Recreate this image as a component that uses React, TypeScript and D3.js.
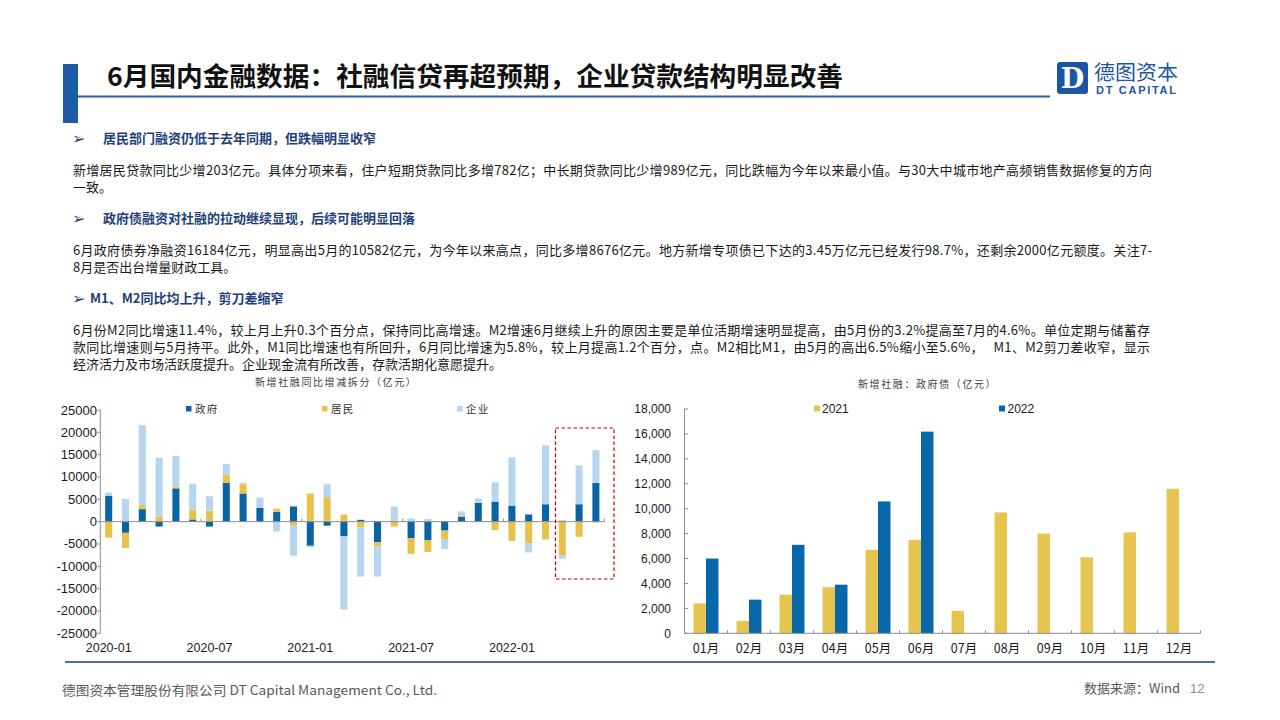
import React from "react";
import * as d3 from "d3";

// ---------- Left chart data: 新增社融同比增减拆分（亿元） ----------
const monthLabels = [
  "2020-01", "2020-02", "2020-03", "2020-04", "2020-05", "2020-06",
  "2020-07", "2020-08", "2020-09", "2020-10", "2020-11", "2020-12",
  "2021-01", "2021-02", "2021-03", "2021-04", "2021-05", "2021-06",
  "2021-07", "2021-08", "2021-09", "2021-10", "2021-11", "2021-12",
  "2022-01", "2022-02", "2022-03", "2022-04", "2022-05", "2022-06",
];
const govValues = [5800, -2500, 2800, -1100, 7450, 500, -1100, 8700, 6300, 3100, 2200, 3400, -5400, -900, -3300, 400, -4600, 0, -3700, -4200, -2000, 1100, 4200, 4500, 3600, 1600, 3900, 200, 3900, 8700];
const resValues = [-3600, -3400, 900, 1200, 400, 2200, 2500, 1900, 2100, 100, 700, -900, 6300, 5500, 1600, -1300, -900, -1100, -3500, -2600, -1900, 300, 0, -1900, -4300, -4900, -4000, -7500, -3400, -200];
const corpValues = [700, 5100, 17900, 13100, 6900, 5800, 3200, 2300, 300, 2200, -2200, -6700, -300, 2900, -16400, -11000, -6800, 3400, 700, 600, -2200, 900, 1000, 4300, 10800, -2000, 13200, -800, 8700, 7300];
const leftXTickLabels = ["2020-01", "2020-07", "2021-01", "2021-07", "2022-01"];
const leftYTicks = [25000, 20000, 15000, 10000, 5000, 0, -5000, -10000, -15000, -20000, -25000];
const leftSeriesNames = ["政府", "居民", "企业"];

// ---------- Right chart data: 新增社融：政府债（亿元） ----------
const rightMonths = ["01月", "02月", "03月", "04月", "05月", "06月", "07月", "08月", "09月", "10月", "11月", "12月"];
const bond2021 = [2400, 1000, 3100, 3700, 6700, 7500, 1800, 9700, 8000, 6100, 8100, 11600];
const bond2022 = [6000, 2700, 7100, 3900, 10582, 16184];
const rightYTicks = [0, 2000, 4000, 6000, 8000, 10000, 12000, 14000, 16000, 18000];
const rightSeriesNames = ["2021", "2022"];

// ---------- Text ----------
const titleText = "6月国内金融数据：社融信贷再超预期，企业贷款结构明显改善";
const heading1 = "居民部门融资仍低于去年同期，但跌幅明显收窄";
const body1 = [
  "新增居民贷款同比少增203亿元。具体分项来看，住户短期贷款同比多增782亿；中长期贷款同比少增989亿元，同比跌幅为今年以来最小值。与30大中城市地产高频销售数据修复的方向",
  "一致。",
];
const heading2 = "政府债融资对社融的拉动继续显现，后续可能明显回落";
const body2 = [
  "6月政府债券净融资16184亿元，明显高出5月的10582亿元，为今年以来高点，同比多增8676亿元。地方新增专项债已下达的3.45万亿元已经发行98.7%，还剩余2000亿元额度。关注7-",
  "8月是否出台增量财政工具。",
];
const heading3 = "M1、M2同比均上升，剪刀差缩窄";
const body3 = [
  "6月份M2同比增速11.4%，较上月上升0.3个百分点，保持同比高增速。M2增速6月继续上升的原因主要是单位活期增速明显提高，由5月份的3.2%提高至7月的4.6%。单位定期与储蓄存",
  "款同比增速则与5月持平。此外，M1同比增速也有所回升，6月同比增速为5.8%，较上月提高1.2个百分，点。M2相比M1，由5月的高出6.5%缩小至5.6%，   M1、M2剪刀差收窄，显示",
  "经济活力及市场活跃度提升。企业现金流有所改善，存款活期化意愿提升。",
];

const CJK = "'Noto Sans CJK SC', 'Noto Sans', sans-serif";
const NUM = "'Liberation Sans', Arial, sans-serif";
const BLUE_TITLE = "#1f3f7a";

const GOV = "#0a64a4";
const RES = "#e6c24c";
const CORP = "#b6d6f0";
const C2021 = "#e5c550";
const C2022 = "#0867a8";

function LeftChart() {
  const x = d3.scaleBand<string>().domain(monthLabels).range([100.3, 604.3]).paddingInner(0.58).paddingOuter(0.29);
  const y = d3.scaleLinear().domain([-25000, 25000]).range([633.3, 410]);
  const rows = monthLabels.map((m, i) => ({ month: m, gov: govValues[i], res: resValues[i], corp: corpValues[i] }));
  const stack = d3.stack<any>().keys(["gov", "res", "corp"]).offset(d3.stackOffsetDiverging);
  const series = stack(rows);
  const colors = [GOV, RES, CORP];
  const step = x.step();
  const x0 = x.range()[0];
  const tickIdx = [6, 12, 18, 24, 30];
  const legendX = [186, 322, 457];
  return (
    <g>
      <text x={255} y={386} fontFamily={CJK} fontSize={10} letterSpacing={1.6} fill="#404040">新增社融同比增减拆分（亿元）</text>
      {leftSeriesNames.map((n, i) => (
        <g key={n}>
          <rect x={legendX[i]} y={406} width={5.5} height={5.5} fill={colors[i]} />
          <text x={legendX[i] + 9} y={412.5} fontFamily={CJK} fontSize={10.5} letterSpacing={1.2} fill="#333">{n}</text>
        </g>
      ))}
      {/* y axis */}
      <line x1={100.3} x2={100.3} y1={410} y2={633.3} stroke="#8c8c8c" strokeWidth={1} />
      {leftYTicks.map((t) => (
        <g key={t}>
          <line x1={97.5} x2={100.3} y1={y(t)} y2={y(t)} stroke="#8c8c8c" />
          <text x={97} y={y(t) + 4.5} textAnchor="end" fontFamily={NUM} fontSize={13} fill="#1a1a1a">{t}</text>
        </g>
      ))}
      {/* bars */}
      {series.map((s, si) =>
        s.map((d, i) => (
          <rect key={si + "-" + i} x={x(monthLabels[i])} width={x.bandwidth()} y={y(d[1])} height={Math.max(0, y(d[0]) - y(d[1]))} fill={colors[si]} />
        ))
      )}
      {/* x axis */}
      <line x1={100.3} x2={604.3} y1={y(0)} y2={y(0)} stroke="#8c8c8c" strokeWidth={1} />
      {tickIdx.map((k) => (
        <line key={k} x1={x0 + k * step} x2={x0 + k * step} y1={y(0) - 3} y2={y(0)} stroke="#8c8c8c" />
      ))}
      {leftXTickLabels.map((l) => (
        <text key={l} x={(x(l) as number) + x.bandwidth() / 2} y={652} textAnchor="middle" fontFamily={NUM} fontSize={12.5} fill="#1a1a1a">{l}</text>
      ))}
      <rect x={555.5} y={428} width={58.5} height={151} fill="none" stroke="#c00000" strokeWidth={1.2} strokeDasharray="3.5,2.5" />
    </g>
  );
}

function RightChart() {
  const x = d3.scaleBand<string>().domain(rightMonths).range([684.5, 1200.5]).paddingInner(0.42).paddingOuter(0.21);
  const sub = d3.scaleBand<string>().domain(rightSeriesNames).range([0, x.bandwidth()]);
  const y = d3.scaleLinear().domain([0, 18000]).range([633.3, 409]);
  const fmt = d3.format(",");
  const step = x.step();
  const x0 = x.range()[0];
  return (
    <g>
      <text x={858} y={388} fontFamily={CJK} fontSize={10} letterSpacing={1.6} fill="#404040">新增社融：政府债（亿元）</text>
      <rect x={814} y={405.5} width={6} height={6} fill={C2021} />
      <text x={822} y={413} fontFamily={NUM} fontSize={12} fill="#1a1a1a">2021</text>
      <rect x={999} y={405.5} width={6} height={6} fill={C2022} />
      <text x={1007.5} y={413} fontFamily={NUM} fontSize={12} fill="#1a1a1a">2022</text>
      <line x1={684.5} x2={684.5} y1={409} y2={633.3} stroke="#8c8c8c" />
      {rightYTicks.map((t) => (
        <g key={t}>
          <line x1={684.5} x2={688} y1={y(t)} y2={y(t)} stroke="#8c8c8c" />
          <text x={671} y={y(t) + 4.3} textAnchor="end" fontFamily={NUM} fontSize={12} fill="#1a1a1a">{fmt(t)}</text>
        </g>
      ))}
      {bond2021.map((v, i) => (
        <rect key={"a" + i} x={(x(rightMonths[i]) as number) + (sub("2021") as number)} width={sub.bandwidth()} y={y(v)} height={y(0) - y(v)} fill={C2021} />
      ))}
      {bond2022.map((v, i) => (
        <rect key={"b" + i} x={(x(rightMonths[i]) as number) + (sub("2022") as number)} width={sub.bandwidth()} y={y(v)} height={y(0) - y(v)} fill={C2022} />
      ))}
      <line x1={684.5} x2={1200.5} y1={y(0)} y2={y(0)} stroke="#8c8c8c" />
      {rightMonths.map((m, i) => (
        <line key={"t" + i} x1={x0 + (i + 1) * step} x2={x0 + (i + 1) * step} y1={y(0) - 3} y2={y(0)} stroke="#8c8c8c" />
      ))}
      {rightMonths.map((m) => (
        <text key={m} x={(x(m) as number) + x.bandwidth() / 2} y={653} textAnchor="middle" fontFamily={CJK} fontSize={12.5} fill="#1a1a1a">{m}</text>
      ))}
    </g>
  );
}

function Paragraph({ heading, lines, y0, headX, arrowX, fullEnd }: any) {
  return (
    <g>
      <text x={arrowX} y={y0 + 5.5} fontFamily="'DejaVu Sans', sans-serif" fontSize={16} fill={BLUE_TITLE}>➢</text>
      <text x={headX} y={y0 + 4.5} fontFamily={CJK} fontSize={13} fontWeight="bold" fill={BLUE_TITLE}>{heading}</text>
      {lines.map((l: string, i: number) => (
        <text key={i} x={73} y={y0 + 36.5 + i * 17} fontFamily={CJK} fontSize={13} fill="#1a1a1a" style={{ whiteSpace: "pre" }}
          {...(i < lines.length - 1 ? { textLength: fullEnd - 73, lengthAdjust: "spacing" } : {})}>{l}</text>
      ))}
    </g>
  );
}

export default function App() {
  return (
    <svg width={1280} height={720} style={{ position: "absolute", left: 0, top: 0, background: "#fff" }}>
      <rect x={0} y={0} width={1280} height={720} fill="#fff" />
      {/* header */}
      <rect x={63} y={64} width={15} height={59} fill="#1f5aa6" />
      <line x1={78} x2={1050} y1={96.5} y2={96.5} stroke="#2f5f9f" strokeWidth={2.2} />
      <text x={107} y={86} fontFamily={CJK} fontSize={26} fontWeight="bold" fill="#111" textLength={736} lengthAdjust="spacingAndGlyphs">{titleText}</text>
      {/* logo */}
      <rect x={1057} y={62} width={31} height={32} rx={3} fill="#1d55a5" />
      <text x={1072.5} y={88} textAnchor="middle" fontFamily="'DejaVu Serif', serif" fontWeight="bold" fontSize={27} fill="#fff">D</text>
      <text x={1094} y={79.5} fontFamily={CJK} fontSize={20} fill="#1d55a5" textLength={84} lengthAdjust="spacingAndGlyphs">德图资本</text>
      <text x={1096} y={94} fontFamily={NUM} fontWeight="bold" fontSize={11} fill="#1d55a5" textLength={80} lengthAdjust="spacing">DT CAPITAL</text>

      <Paragraph heading={heading1} lines={body1} y0={138} headX={103} arrowX={72} fullEnd={1152} />
      <Paragraph heading={heading2} lines={body2} y0={218} headX={103} arrowX={72} fullEnd={1152} />
      <Paragraph heading={heading3} lines={body3} y0={298} headX={90} arrowX={72} fullEnd={1150} />

      <LeftChart />
      <RightChart />

      {/* footer */}
      <line x1={65} x2={1215} y1={662} y2={662} stroke="#1f3f7f" strokeWidth={1.5} />
      <text x={62} y={695} fontFamily={CJK} fontSize={13} fill="#595959" textLength={375} lengthAdjust="spacingAndGlyphs">德图资本管理股份有限公司  DT Capital Management  Co., Ltd.</text>
      <text x={1084} y={693} fontFamily={CJK} fontSize={13} fill="#595959" textLength={96} lengthAdjust="spacingAndGlyphs">数据来源：Wind</text>
      <text x={1190} y={693} fontFamily={NUM} fontSize={13} fill="#8c8c8c">12</text>
    </svg>
  );
}
